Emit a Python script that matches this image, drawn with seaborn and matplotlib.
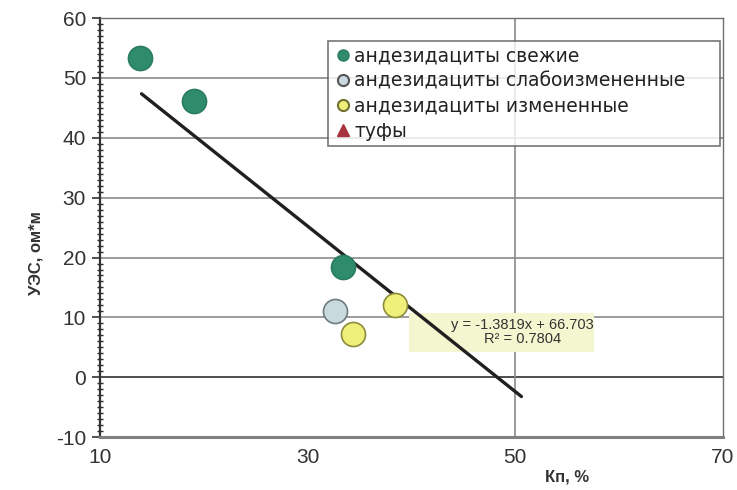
import numpy as np
import pandas as pd
import seaborn as sns
import matplotlib.pyplot as plt
from matplotlib.lines import Line2D

# Data
kp_fresh = [13.9, 19.1, 33.4]
ues_fresh = [53.4, 46.2, 18.4]
kp_weak = [32.6]
ues_weak = [11.0]
kp_altered = [34.4, 38.4]
ues_altered = [7.2, 12.0]

slope = -1.3819
intercept = 66.703
r2 = 0.7804
trend_x = [14.0, 50.6]

group_names = ['андезидациты свежие', 'андезидациты слабоизмененные',
               'андезидациты измененные', 'туфы']

df = pd.DataFrame({
    'kp': kp_fresh + kp_weak + kp_altered,
    'ues': ues_fresh + ues_weak + ues_altered,
    'group': [group_names[0]] * len(kp_fresh) + [group_names[1]] * len(kp_weak)
             + [group_names[2]] * len(kp_altered),
})

face = {group_names[0]: '#2e8b6b', group_names[1]: '#c8dade',
        group_names[2]: '#eef07a', group_names[3]: '#a8323e'}
edge = {group_names[0]: '#2a7d60', group_names[1]: '#6d7d82',
        group_names[2]: '#8c8c3c', group_names[3]: '#a8323e'}

sns.set_style('white')
plt.rcParams['font.family'] = ['Liberation Sans', 'DejaVu Sans']
plt.rcParams['axes.unicode_minus'] = False

fig = plt.figure(figsize=(7.37, 4.9), dpi=100)
ax = fig.add_axes([0.1357, 0.108, 0.845, 0.855])

# grid
for yv in range(-10, 61, 10):
    ax.axhline(yv, color='#8a8a8a', lw=1.2, zorder=0)
ax.axhline(0, color='#505050', lw=1.4, zorder=0)
ax.axvline(50, color='#8a8a8a', lw=1.2, zorder=0)

# trend line
tx = np.array(trend_x)
sns.lineplot(x=tx, y=slope * tx + intercept, color='#202020', lw=2.4, ax=ax, zorder=2)

# points
for g in group_names[:3]:
    sub = df[df['group'] == g]
    sns.scatterplot(data=sub, x='kp', y='ues', s=300, color=face[g],
                    edgecolor=edge[g], linewidth=1.2, ax=ax, zorder=3)

# trendline label box (behind the line, as in the reference)
ax.axhspan(4.2, 10.7, xmin=(39.8 - 10) / 60, xmax=(57.6 - 10) / 60,
           color='#f3f6cf', lw=0, zorder=1)
ax.text(50.7, 7.6, f'y = {slope}x + {intercept}\nR² = {r2}', ha='center', va='center',
        fontsize=10.5, color='#333333', linespacing=1.0, zorder=4)

ax.set_xlim(10, 70)
ax.set_ylim(-10, 60)
ax.set_xticks([10, 30, 50, 70])
ax.set_yticks(range(-10, 61, 10))
ax.set_yticks(range(-10, 61, 1), minor=True)
ax.tick_params(axis='both', labelsize=15, colors='#333333')
ax.tick_params(axis='y', which='major', direction='out', length=6, width=1.2, left=True, pad=4)
ax.tick_params(axis='y', which='minor', direction='inout', length=5, width=1.0, left=True)
ax.tick_params(axis='x', which='major', length=0, pad=8)

for side in ['top', 'right']:
    ax.spines[side].set_color('#707070')
    ax.spines[side].set_linewidth(1.0)
ax.spines['left'].set_color('#333333')
ax.spines['left'].set_linewidth(1.6)
ax.spines['bottom'].set_color('#808080')
ax.spines['bottom'].set_linewidth(2.2)

ax.set_xlabel('')
ax.set_ylabel('УЭС, ом*м', fontsize=12, fontweight='bold', color='#333333', labelpad=4)
ax.yaxis.set_label_coords(-0.09, 0.44)
ax.text(0.75, -0.095, 'Кп, %', transform=ax.transAxes, fontsize=12, fontweight='bold',
        color='#333333', ha='center', va='center')

handles = [
    Line2D([], [], marker='o', ls='', ms=8, mfc=face[group_names[0]], mec=edge[group_names[0]]),
    Line2D([], [], marker='o', ls='', ms=8, mfc=face[group_names[1]], mec='#555555', mew=1.5),
    Line2D([], [], marker='o', ls='', ms=8, mfc=face[group_names[2]], mec='#707030', mew=1.5),
    Line2D([], [], marker='^', ls='', ms=8, mfc=face[group_names[3]], mec=edge[group_names[3]]),
]
leg = ax.legend(handles, group_names, loc='upper left', mode='expand',
                bbox_to_anchor=(0.366, 0.5, 0.63, 0.445),
                frameon=True, fancybox=False, shadow=False, handletextpad=0.1,
                handlelength=1.0, borderpad=0.3, borderaxespad=0.0, labelspacing=0.32,
                prop={'family': 'DejaVu Sans', 'size': 13.5})
leg.get_frame().set_edgecolor('#555555')
leg.get_frame().set_linewidth(1.2)
for t in leg.get_texts():
    t.set_color('#222222')

fig.savefig('out.png', dpi=100)
